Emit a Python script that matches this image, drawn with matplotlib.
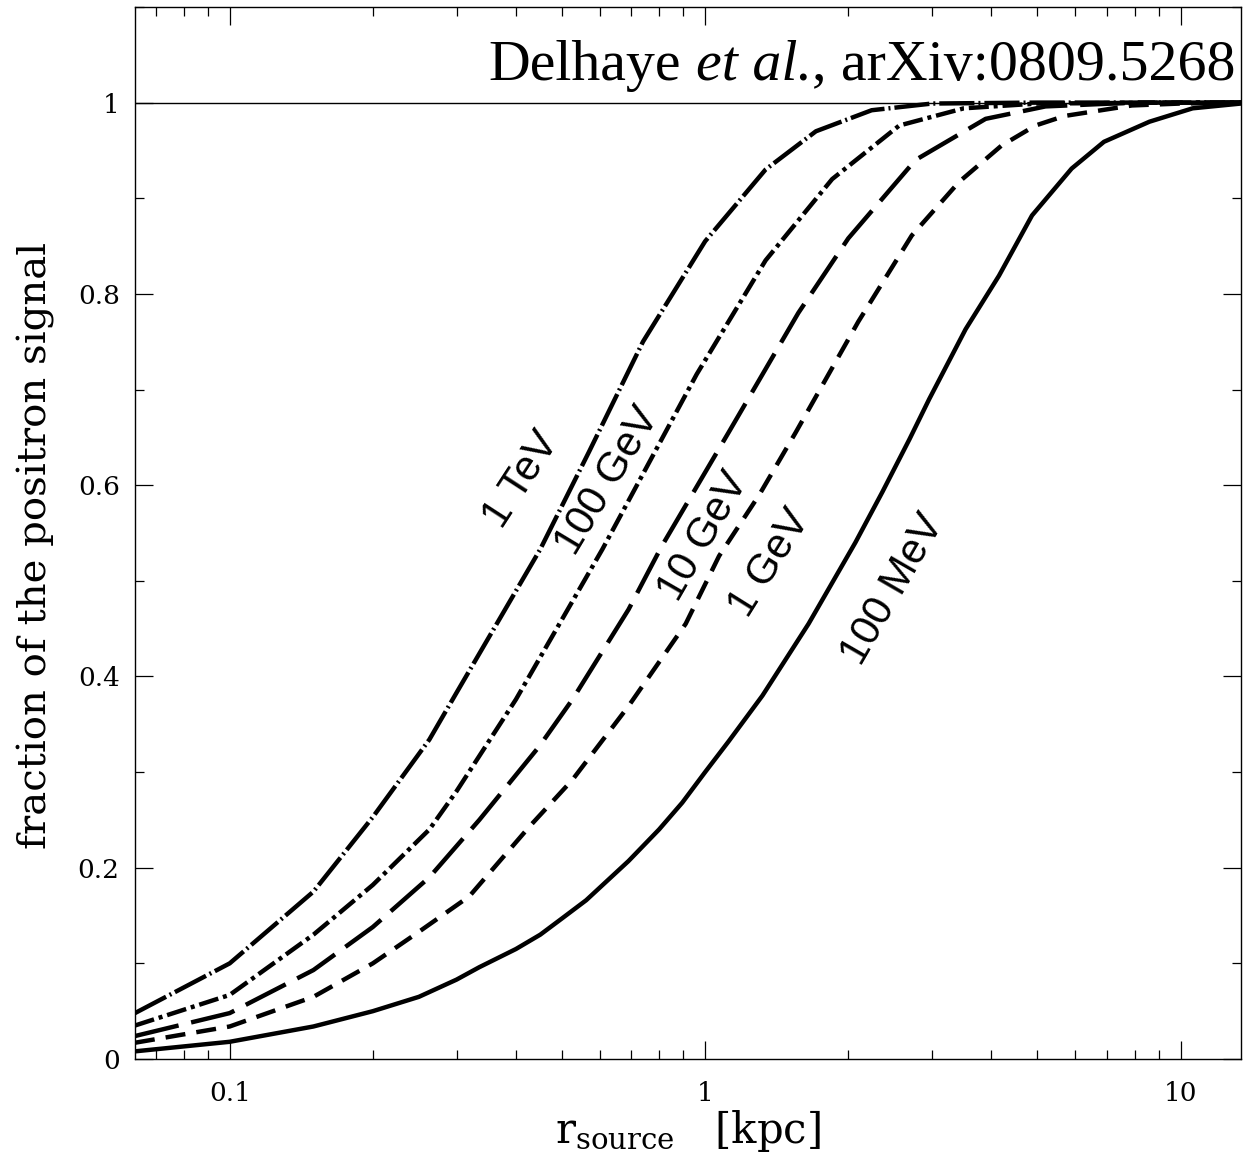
import matplotlib
matplotlib.use("Agg")
import matplotlib.pyplot as plt
from matplotlib.ticker import LogLocator, NullFormatter, MultipleLocator
from matplotlib.transforms import offset_copy
from matplotlib import font_manager

plt.rcParams['mathtext.fontset'] = 'custom'
plt.rcParams['mathtext.rm'] = 'DejaVu Serif'
plt.rcParams['mathtext.it'] = 'DejaVu Serif:italic'

names = {f.name for f in font_manager.fontManager.ttflist}
sans = 'Liberation Sans' if 'Liberation Sans' in names else 'DejaVu Sans'

# ---- data ----
x_1tev = [0.0632, 0.1, 0.15, 0.2, 0.263, 0.3, 0.45, 0.57, 0.74, 1.0, 1.34, 1.71, 2.24, 3.0, 5.0, 10.0, 13.4]
y_1tev = [0.048, 0.10, 0.175, 0.253, 0.334, 0.383, 0.533, 0.635, 0.75, 0.855, 0.93, 0.97, 0.992, 0.999, 1.0, 1.0, 1.0]

x_100gev = [0.0632, 0.1, 0.15, 0.2, 0.263, 0.3, 0.4, 0.608, 0.96, 1.34, 1.85, 2.56, 3.5, 5.0, 10.0, 13.4]
y_100gev = [0.035, 0.067, 0.13, 0.182, 0.24, 0.28, 0.376, 0.533, 0.716, 0.835, 0.92, 0.976, 0.994, 0.999, 1.0, 1.0]

x_10gev = [0.0632, 0.1, 0.15, 0.2, 0.263, 0.335, 0.448, 0.526, 0.69, 0.81, 1.12, 1.57, 2.0, 2.77, 3.89, 5.2, 8.0, 13.4]
y_10gev = [0.024, 0.048, 0.093, 0.138, 0.19, 0.25, 0.327, 0.376, 0.47, 0.536, 0.655, 0.78, 0.858, 0.94, 0.983, 0.996, 1.0, 1.0]

x_1gev = [0.0632, 0.1, 0.15, 0.2, 0.25, 0.319, 0.427, 0.526, 0.69, 0.91, 1.07, 1.3, 1.55, 2.1, 2.72, 3.42, 4.2, 4.95, 5.7, 7.9, 10.0, 13.4]
y_1gev = [0.017, 0.034, 0.065, 0.10, 0.133, 0.17, 0.243, 0.292, 0.369, 0.455, 0.526, 0.59, 0.655, 0.771, 0.861, 0.917, 0.955, 0.976, 0.986, 0.997, 0.999, 1.0]

x_100mev = [0.0632, 0.1, 0.15, 0.2, 0.25, 0.3, 0.335, 0.4, 0.45, 0.5, 0.562, 0.69, 0.8, 0.895, 1.0, 1.12, 1.32, 1.65, 2.07, 2.36, 2.69, 2.96, 3.53, 4.15, 4.87, 5.9, 6.9, 8.6, 10.6, 13.4]
y_100mev = [0.008, 0.018, 0.034, 0.05, 0.065, 0.083, 0.096, 0.115, 0.13, 0.147, 0.166, 0.207, 0.24, 0.268, 0.3, 0.332, 0.38, 0.455, 0.54, 0.593, 0.648, 0.69, 0.763, 0.819, 0.882, 0.931, 0.959, 0.98, 0.994, 0.999]

curve_labels = ["1 TeV", "100 GeV", "10 GeV", "1 GeV", "100 MeV"]
label_x = [0.41, 0.625, 0.995, 1.37, 2.49]
label_y = [0.606, 0.604, 0.547, 0.519, 0.491]
label_rot = [57, 59, 60, 58, 60]

x_ticks = [0.1, 1, 10]
x_ticklabels = ["0.1", "1", "10"]
y_ticks = [0, 0.2, 0.4, 0.6, 0.8, 1.0]
y_ticklabels = ["0", "0.2", "0.4", "0.6", "0.8", "1"]

# ---- figure ----
fig = plt.figure(figsize=(12.45, 11.57), dpi=100)
ax = fig.add_axes([0.1084, 0.0847, 0.8884, 0.9093])

lw = 3.2
styles = [
    (0, (7.9, 0.9, 0.45, 0.9)),
    (0, (4.5, 1.1, 0.9, 1.1)),
    (0, (10.1, 2.9)),
    (0, (4.5, 2.5)),
    '-',
]
xs = [x_1tev, x_100gev, x_10gev, x_1gev, x_100mev]
ys = [y_1tev, y_100gev, y_10gev, y_1gev, y_100mev]
for xv, yv, ls in zip(xs, ys, styles):
    ax.plot(xv, yv, color='black', lw=lw, ls=ls, solid_joinstyle='round')

ax.axhline(1.0, color='black', lw=1.0)

ax.set_xscale('log')
ax.set_xlim(0.0632, 13.4)
ax.set_ylim(0, 1.1)

ax.set_xticks(x_ticks)
ax.set_xticklabels(x_ticklabels)
ax.xaxis.set_minor_locator(LogLocator(base=10, subs=range(2, 10)))
ax.xaxis.set_minor_formatter(NullFormatter())
ax.set_yticks(y_ticks)
ax.set_yticklabels(y_ticklabels)
ax.yaxis.set_minor_locator(MultipleLocator(0.1))

ax.tick_params(which='both', direction='in', top=True, right=True, width=0.9, color='black')
ax.tick_params(which='major', length=13)
ax.tick_params(which='minor', length=6.5)
ax.tick_params(axis='x', which='major', pad=16)
ax.tick_params(axis='y', which='major', pad=11)
for lab in ax.get_xticklabels() + ax.get_yticklabels():
    lab.set_fontfamily('DejaVu Serif')
    lab.set_fontsize(19)
for sp in ax.spines.values():
    sp.set_linewidth(1.0)

ax.set_ylabel("fraction of the positron signal", fontfamily='DejaVu Serif', fontsize=29)
ax.yaxis.set_label_coords(-0.072, 0.488)
ax.set_xlabel(r"$\mathrm{r_{source}\quad[kpc]}$", fontsize=30, labelpad=1)

for t, lx, ly, rot in zip(curve_labels, label_x, label_y, label_rot):
    ax.text(lx, ly, t, rotation=rot, rotation_mode='anchor', ha='center', va='center',
            fontfamily=sans, fontsize=30)

# title built from roman + italic pieces, right aligned
renderer = fig.canvas.get_renderer()
TX, TY, TFS = 0.9946, 0.931, 41.7
t3 = ax.text(TX, TY, ", arXiv:0809.5268", transform=ax.transAxes, ha='right', va='baseline',
             fontfamily='Liberation Serif', fontsize=TFS)
w3 = t3.get_window_extent(renderer).width
t2 = ax.text(TX, TY, "et al.", transform=offset_copy(ax.transAxes, fig=fig, x=-w3, y=0, units='dots'),
             ha='right', va='baseline', fontfamily='Liberation Serif', style='italic', fontsize=TFS)
w2 = t2.get_window_extent(renderer).width
space = 0.25 * TFS * fig.dpi / 72.0
ax.text(TX, TY, "Delhaye", transform=offset_copy(ax.transAxes, fig=fig, x=-(w3 + w2 + space), y=0, units='dots'),
        ha='right', va='baseline', fontfamily='Liberation Serif', fontsize=TFS)

fig.savefig("out.png", dpi=100)
